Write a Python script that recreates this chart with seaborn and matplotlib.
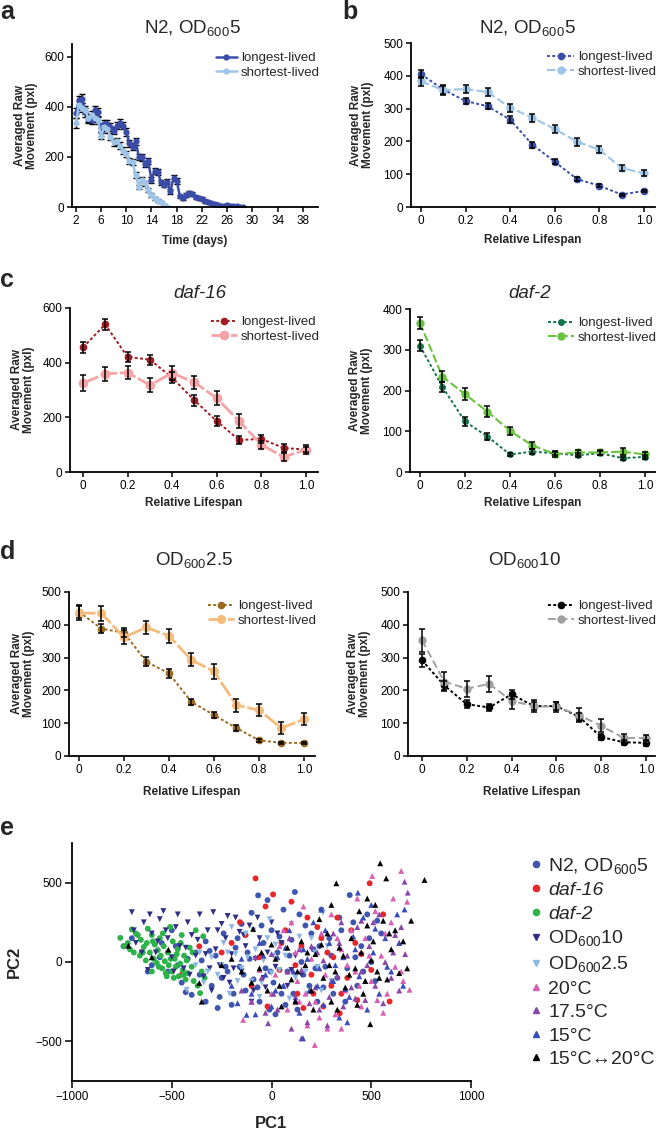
import numpy as np
import pandas as pd
import matplotlib
matplotlib.use('Agg')
import matplotlib.pyplot as plt
from matplotlib.lines import Line2D
import seaborn as sns

# ---------------------------------------------------------------
# data
# ---------------------------------------------------------------
# panel a : N2, OD600 5 over time (days)
days_long = [2.0, 2.5, 3.0, 3.5, 4.0, 4.5, 5.0, 5.5, 6.0, 6.5, 7.0, 7.5, 8.0, 8.5,
             9.0, 9.5, 10.0, 10.5, 11.0, 11.5, 12.0, 12.5, 13.0, 13.5, 14.0, 14.5,
             15.0, 15.5, 16.0, 16.5, 17.0, 17.5, 18.0, 18.5, 19.0, 19.5, 20.0, 20.5,
             21.0, 21.5, 22.0, 22.5, 23.0, 23.5, 24.0, 24.5, 25.0, 25.5, 26.0, 26.5,
             27.0, 27.5, 28.0, 28.5]
move_long = [375, 425, 432, 378, 350, 345, 385, 378, 300, 332, 330, 318, 305, 325,
             335, 325, 300, 255, 240, 262, 200, 198, 172, 182, 108, 145,
             140, 98, 88, 100, 62, 115, 105, 42, 35, 48, 55, 52,
             38, 35, 33, 22, 20, 17, 12, 8, 5, 3, 6, 5,
             3, 2, 1, 0]
err_long = [20, 18, 18, 18, 16, 16, 18, 16, 16, 16, 15, 15, 15, 15,
            15, 15, 15, 14, 14, 14, 13, 13, 12, 12, 11, 12,
            12, 10, 10, 10, 9, 12, 12, 7, 6, 7, 7, 7,
            6, 6, 6, 5, 5, 4, 4, 3, 3, 2, 3, 3,
            2, 2, 1, 1]
days_short = [2.0, 2.5, 3.0, 3.5, 4.0, 4.5, 5.0, 5.5, 6.0, 6.5, 7.0, 7.5, 8.0, 8.5,
              9.0, 9.5, 10.0, 10.5, 11.0, 11.5, 12.0, 12.5, 13.0, 13.5, 14.0, 14.5,
              15.0, 15.5, 16.0, 16.5]
move_short = [335, 405, 395, 385, 355, 365, 355, 345, 285, 318, 312, 280, 258, 262,
              245, 225, 212, 185, 178, 128, 80, 108, 95, 68, 48, 35,
              25, 18, 8, 0]
err_short = [18, 18, 18, 16, 16, 16, 15, 15, 15, 15, 15, 14, 14, 14,
             14, 13, 13, 12, 12, 11, 9, 10, 10, 8, 7, 6,
             5, 4, 3, 1]

# panels b-d : relative lifespan
rel_life = [0, 0.1, 0.2, 0.3, 0.4, 0.5, 0.6, 0.7, 0.8, 0.9, 1.0]

n2_long = [405, 358, 323, 307, 266, 190, 138, 85, 65, 38, 49]
n2_long_err = [12, 13, 10, 9, 10, 9, 8, 6, 4, 3, 3]
n2_short = [383, 356, 360, 350, 303, 272, 238, 199, 175, 119, 103]
n2_short_err = [14, 14, 13, 13, 12, 12, 12, 12, 11, 10, 10]

daf16_long = [456, 540, 421, 411, 345, 262, 186, 117, 121, 88, 82]
daf16_long_err = [20, 20, 18, 18, 20, 20, 18, 15, 15, 14, 10]
daf16_short = [325, 359, 364, 318, 362, 328, 270, 186, 100, 55, 82]
daf16_short_err = [30, 25, 25, 25, 25, 25, 25, 25, 15, 15, 15]

daf2_long = [310, 209, 124, 87, 43, 50, 46, 41, 46, 34, 37]
daf2_long_err = [14, 12, 10, 8, 4, 6, 5, 5, 5, 4, 4]
daf2_short = [366, 234, 191, 148, 101, 65, 44, 48, 48, 50, 43]
daf2_short_err = [15, 14, 14, 13, 10, 9, 6, 7, 7, 8, 5]

od25_long = [440, 388, 376, 287, 252, 165, 125, 85, 48, 40, 40]
od25_long_err = [20, 14, 14, 14, 14, 10, 10, 10, 5, 4, 4]
od25_short = [436, 435, 362, 392, 366, 293, 258, 155, 140, 85, 112]
od25_short_err = [22, 22, 22, 20, 20, 20, 22, 20, 18, 18, 18]

od10_long = [292, 215, 158, 148, 188, 152, 152, 120, 58, 42, 40]
od10_long_err = [20, 15, 12, 10, 14, 12, 12, 12, 10, 8, 8]
od10_short = [353, 227, 205, 220, 168, 152, 150, 125, 92, 55, 55]
od10_short_err = [35, 28, 25, 25, 25, 18, 16, 20, 20, 12, 10]

# panel e : PCA scatter
n2_pc1 = [-742, -650, -600, -560, -520, -480, -450, -420, -400, -380, -360, -330, -300,
          -280, -260, -240, -220, -200, -180, -160, -150, -130, -110, -100, -90, -67,
          -60, -40, -30, -10, 0, 10, 30, 50, 60, 80, 100, 117, 130, 150, 170, 190, 210,
          230, 250, 270, 290, 310, 330, 350, 380, 392, 410, 430, 450, 480, 500, 520, 550,
          -20, -500, -270, 20,
          -700, -620, -550, -470, -430, -350, -310, -250, -190, -170, -140, -120, -70, -50,
          -5, 40, 70, 90, 140, 160, 200, 220, 260, 300, 340, 370, 420, 460, 490, 530,
          -230, -330, 110, 240]
n2_pc2 = [99, 60, -20, 30, -60, 100, -130, 20, -207, 60, -80, 130, -150,
          40, -220, 180, -60, -270, 90, -30, 240, -180, 20, 310, -110, 420,
          -250, 120, -40, -300, 200, -130, 60, -200, 330, -60, 140, 441, -300, 0, 230, -150, 80,
          -250, 330, -30, 150, -200, -100, 200, -40, 422, 250, -150, 100, 300, 0, -120, 180,
          390, 200, -290, -330,
          150, -60, 120, -20, -190, 10, 70, -100, -200, 150, -80, 60, -160, 230,
          -60, 160, -270, 40, 300, -80, 180, -40, -160, 40, 280, -250, 30, -60, 150, 260,
          -30, -250, -200, 100]

daf16_pc1 = [-80, 8, 492, 592, 342, -450, -362, -158, -60, -100, -30, 40, 70, 100, 130,
             150, 180, 200, 230, 260, 280, 300, 330, 380, 400, 430, 450, -200, -20, 160, -130,
             -250, 50, 120, 210, 250, 310, 350, 420, 500, 560]
daf16_pc2 = [527, 426, 496, -249, -323, -80, 99, 251, 30, -150, 350, -50, 200, 380, -200,
             100, 280, -80, 220, -280, 60, -150, 280, -100, 200, -240, 50, 120, -280, -290, 170,
             60, 120, -20, -200, 150, 30, -200, 120, -50, 300]

daf2_pc1 = [-758, -700, -680, -655, -640, -625, -610, -600, -590, -585, -575, -570, -560,
            -555, -548, -540, -535, -530, -520, -515, -508, -500, -495, -490, -485, -480,
            -470, -465, -458, -450, -445, -438, -430, -420, -410, -400, -390, -380, -370,
            -358, -350, -342, -335, -620, -660, -720, -690, -600,
            -740, -710, -670, -645, -630, -595, -565, -545, -525, -505, -475, -455, -440,
            -425, -395]
daf2_pc2 = [152, 205, 180, 140, 95, 120, 60, 170, 20, 110, -6, 75, 150,
            40, -40, 100, 5, -70, 60, -20, 221, -60, 130, -100, 20, -30,
            80, -90, -10, 170, -50, 40, -110, -70, 90, -30, -120, 200, -150,
            -196, -60, 162, -100, 210, 40, 120, 60, -60,
            100, 80, 170, 60, 10, 130, -30, 180, -90, 20, 50, 120, -80,
            10, 60]

od10_pc1 = [-700, -680, -640, -600, -580, -560, -542, -520, -500, -480, -460, -440, -420,
            -400, -380, -360, -340, -320, -292, -280, -260, -250, -230, -210, -200, -180,
            -160, -150, -130, -110, -90, -80, -60, -40, -20, 0, 20, 50, 80, 120, 150,
            -620, -300, -100, -240,
            -690, -650, -610, -570, -530, -490, -470, -430, -410, -370, -330, -310, -270,
            -220, -190, -140, -70, -30, 30, 100]
od10_pc2 = [314, 120, 250, 180, 60, 270, 321, 150, 30, 220, 100, -40, 250,
            170, 40, 300, -90, 200, 314, 80, -20, 240, 150, -130, 50, 280,
            190, -60, 100, 230, -180, 20, 150, -100, 60, 250, -30, 120, -150, 40, -80,
            -50, -180, -250, -100,
            200, 60, 300, 130, 200, -60, 300, 90, -80, 140, 50, -40, 200,
            290, -40, 170, 280, -160, 180, -50]

od25_pc1 = [-425, -380, -340, -300, -270, -240, -210, -180, -150, -130, -100, -80, -60,
            -40, -20, 0, 20, 50, 70, 100, 120, 150, 180, 200, 230, 258, 280, 300, -200, -10,
            -360, -320, -250, -220, -170, -120, -90, -50, 10, 40, 90, 140, 170, 220, 250]
od25_pc2 = [-175, -20, -130, 30, -80, 120, -200, 50, -40, 180, -120, 80, -220,
            10, 150, -70, 110, -160, 40, 240, -100, 70, -200, 150, -30, 310, 100, -120, 220, 270,
            60, -60, -20, 60, -120, 30, 200, -130, 40, -50, -230, 160, -60, 60, -180]

t20_pc1 = [505, 650, 692, -142, 217, 0, 40, 80, 100, 130, 160, 180, 200, 220, 250, 270,
           300, 320, 350, 370, 400, 420, 450, 470, 500, 520, 550, 580, 600, 620, 640, 660,
           680, -60, 280, 140, 430, 560,
           20, 60, 120, 170, 240, 330, 380, 440, 490, 530, 570, 610, 650, -100, 350]
t20_pc2 = [542, 574, -175, -365, -523, -200, 100, -300, 250, -120, 350, -400, 20, -250, 180, -80,
           300, -330, 80, -180, 200, -60, -280, 150, -120, 320, 40, -200, 250, -30, 120, -120,
           380, -50, -420, -250, 400, -320,
           -80, 200, 60, -200, -350, 150, -20, -150, 40, -240, 180, 400, -60, -250, -420]

t175_pc1 = [667, 683, 150, -17, -100, -50, 0, 30, 60, 90, 120, 150, 180, 200, 220, 240,
            260, 290, 310, 330, 360, 380, 400, 430, 450, 470, 490, 520, 540, 570, 600, 620,
            650, 670, -150, 100, 280, 350, 450,
            -80, 10, 80, 140, 190, 230, 300, 340, 420, 480, 510, 560, 610, 640, -30]
t175_pc2 = [506, 437, -481, -386, -250, -100, 50, -300, -150, 150, -220, -50, -380, 100, -160, -300,
            10, -220, 180, -90, -280, 40, -160, 220, -60, -240, 100, -150, 300, 0, -100, 170,
            220, 50, -180, -420, -400, 250, 260,
            30, -200, -60, 80, -260, 60, -120, 120, -230, -20, 250, -260, 60, -180, -320]

t15_pc1 = [433, 667, 158, -125, -200, -150, -100, -60, -30, 0, 30, 60, 90, 110, 140, 160,
           190, 210, 240, 260, 290, 310, 340, 360, 390, 410, 440, 460, 480, 510, 540, 570,
           600, 630, 660, 380, -80, 250, 500,
           -170, -40, 20, 70, 120, 180, 230, 270, 320, 370, 420, 470, 520, 580, 640]
t15_pc2 = [437, 331, -481, -333, -150, 20, -200, 120, -80, -280, 30, -150, 200, -60, -320, 80,
           -180, 250, -40, -270, 120, -120, -350, 30, -220, 160, -90, 280, -300, 60, -200, 150,
           -60, 300, -150, -380, -330, 330, 360,
           -260, 40, -180, 90, -240, 20, -150, 200, -20, -170, 80, -120, 210, -30, 120]

shift_pc1 = [545, 767, 575, 325, 495, -717, -362, -517, -92, -150, -100, -50, -20, 20, 50, 80,
             100, 120, 150, 170, 200, 220, 240, 260, 280, 300, 320, 340, 370, 400, 420, 440,
             460, 480, 500, 520, 540, 560, 590, 600, 640, 660, 700, 580, 300, -350, -200, 430,
             -600, -250, -60, 0, 40, 130, 180, 210, 250, 290, 330, 360, 390, 450, 470, 510,
             530, 620, 680, 480]
shift_pc2 = [622, 517, 527, 496, -392, 103, -133, 78, 209, -60, -130, 60, -180, 20, -280, 90,
             -110, -250, 130, -20, -180, 50, 270, -100, 180, -250, -60, 90, -160, 150, -40, 320,
             -200, 230, 10, 360, -100, 260, 180, 80, -70, 130, 260, -110, 360, -250, 20, -270,
             30, -20, -40, 110, -150, -60, 60, -300, 110, -20, -300, 40, -80, 60, -120, 130,
             -60, 200, -40, 400]

group_names = ['N2, OD$_{600}$5', 'daf-16', 'daf-2', 'OD$_{600}$10', 'OD$_{600}$2.5',
               '20°C', '17.5°C', '15°C', '15°C↔20°C']
group_colors = ['#3f56b0', '#e8262a', '#2db34a', '#2f2f86', '#8cb8e2',
                '#d95fb5', '#8b47a8', '#3a4bbf', '#000000']
group_markers = ['o', 'o', 'o', 'v', 'v', '^', '^', '^', '^']
group_pc1 = [n2_pc1, daf16_pc1, daf2_pc1, od10_pc1, od25_pc1, t20_pc1, t175_pc1, t15_pc1, shift_pc1]
group_pc2 = [n2_pc2, daf16_pc2, daf2_pc2, od10_pc2, od25_pc2, t20_pc2, t175_pc2, t15_pc2, shift_pc2]

# ---------------------------------------------------------------
# style
# ---------------------------------------------------------------
sns.set_style('ticks')
plt.rcParams['font.family'] = ['Liberation Sans', 'DejaVu Sans']
plt.rcParams['mathtext.default'] = 'regular'

W, H = 661, 1132
fig = plt.figure(figsize=(W / 100, H / 100), dpi=100)


def add_axes(left, right, top, bottom):
    return fig.add_axes([left / W, 1 - bottom / H, (right - left) / W, (bottom - top) / H])


def style_axes(ax):
    sns.despine(ax=ax)
    for side in ['left', 'bottom']:
        ax.spines[side].set_linewidth(1.3)
        ax.spines[side].set_color('black')
    ax.tick_params(direction='out', length=3.5, width=1.1, labelsize=8.5, pad=2,
                   colors='black')


def fig_text(x, y, s, **kw):
    fig.text(x / W, 1 - y / H, s, **kw)


ylab = 'Averaged Raw\nMovement (pxl)'
lab_kw = dict(fontsize=8.5, fontweight='bold', linespacing=1.0)


def lifespan_panel(ax, ylong, elong, yshort, eshort, c_long, c_short, ymax, ystep,
                   xlim, ls_long, ls_short, lw_long, lw_short, ms_long, ms_short):
    sns.lineplot(x=rel_life, y=ylong, ax=ax, color=c_long, marker='o', markersize=ms_long,
                 markeredgewidth=0, linewidth=lw_long, linestyle=ls_long, label='longest-lived',
                 zorder=2)
    sns.lineplot(x=rel_life, y=yshort, ax=ax, color=c_short, marker='o', markersize=ms_short,
                 markeredgewidth=0, linewidth=lw_short, linestyle=ls_short, label='shortest-lived',
                 zorder=2)
    ax.errorbar(rel_life, ylong, yerr=elong, fmt='none', ecolor='black', elinewidth=1.1,
                capsize=2.5, capthick=1.1, zorder=3)
    ax.errorbar(rel_life, yshort, yerr=eshort, fmt='none', ecolor='black', elinewidth=1.1,
                capsize=2.5, capthick=1.1, zorder=3)
    ax.set_xlim(*xlim)
    ax.set_ylim(0, ymax)
    ax.set_yticks(np.arange(0, ymax + 1, ystep))
    ax.set_xticks([0, 0.2, 0.4, 0.6, 0.8, 1.0])
    ax.set_xticklabels(['0', '0.2', '0.4', '0.6', '0.8', '1.0'])
    style_axes(ax)
    ax.set_xlabel('Relative Lifespan', **lab_kw)
    ax.set_ylabel(ylab, **lab_kw)
    ax.legend(frameon=False, loc='upper right', bbox_to_anchor=(1.04, 1.0), fontsize=9.5,
              handlelength=2.0, handletextpad=0.3, labelspacing=0.2, borderaxespad=0.2)


# ---------------------------------------------------------------
# panel a
# ---------------------------------------------------------------
ax_a = add_axes(72, 318, 44, 207)
sns.lineplot(x=days_long, y=move_long, ax=ax_a, color='#3a4ca8', marker='o', markersize=4.5,
             markeredgewidth=0, linewidth=1.8, label='longest-lived', zorder=2)
sns.lineplot(x=days_short, y=move_short, ax=ax_a, color='#9ec5e8', marker='o', markersize=4.5,
             markeredgewidth=0, linewidth=1.8, label='shortest-lived', zorder=2)
ax_a.errorbar(days_long, move_long, yerr=err_long, fmt='none', ecolor='black', elinewidth=1.0,
              capsize=2, capthick=1.0, zorder=1.5)
ax_a.errorbar(days_short, move_short, yerr=err_short, fmt='none', ecolor='black', elinewidth=1.0,
              capsize=2, capthick=1.0, zorder=1.5)
ax_a.set_xlim(1.4, 40.4)
ax_a.set_ylim(0, 650)
ax_a.set_xticks(np.arange(2, 39, 4))
ax_a.set_yticks([0, 200, 400, 600])
style_axes(ax_a)
ax_a.set_xlabel('Time (days)', **lab_kw)
ax_a.set_ylabel(ylab, **lab_kw)
ax_a.legend(frameon=False, loc='upper right', bbox_to_anchor=(1.04, 1.0), fontsize=9.5,
            handlelength=1.6, handletextpad=0.3, labelspacing=0.2, borderaxespad=0.2)

# ---------------------------------------------------------------
# panels b-d
# ---------------------------------------------------------------
ax_b = add_axes(411, 655, 43, 207)
lifespan_panel(ax_b, n2_long, n2_long_err, n2_short, n2_short_err, '#3a4ea8', '#9ec5e8',
               500, 100, (-0.045, 1.05), (0, (1.5, 1.2)), (0, (4, 1.5)), 1.4, 1.5, 5.5, 6)

ax_c1 = add_axes(70, 318, 308, 472)
lifespan_panel(ax_c1, daf16_long, daf16_long_err, daf16_short, daf16_short_err, '#a31a22', '#f4a3a6',
               600, 200, (-0.058, 1.054), (0, (1.5, 1.2)), (0, (6, 1)), 1.4, 2.0, 5.5, 7)

ax_c2 = add_axes(410, 655, 309, 472)
lifespan_panel(ax_c2, daf2_long, daf2_long_err, daf2_short, daf2_short_err, '#13744a', '#6bc33f',
               400, 100, (-0.044, 1.044), (0, (1.5, 1.2)), (0, (4, 1.5)), 1.4, 1.5, 5, 6)

ax_d1 = add_axes(69, 315, 592, 756)
lifespan_panel(ax_d1, od25_long, od25_long_err, od25_short, od25_short_err, '#9a6a22', '#f5bb7c',
               500, 100, (-0.044, 1.049), (0, (1.5, 1.2)), (0, (6, 1)), 1.4, 2.0, 5.5, 6.5)

ax_d2 = add_axes(408, 655, 592, 756)
lifespan_panel(ax_d2, od10_long, od10_long_err, od10_short, od10_short_err, 'black', '#a0a0a0',
               500, 100, (-0.062, 1.04), (0, (1.5, 1.2)), (0, (4, 2)), 1.4, 1.4, 5.5, 6)

for ax in [ax_a, ax_c1, ax_d1]:
    ax.yaxis.set_label_coords(-0.14, 0.5)
for ax in [ax_b, ax_c2, ax_d2]:
    ax.yaxis.set_label_coords(-0.15, 0.5)
ax_a.xaxis.set_label_coords(0.5, -0.17)
ax_b.xaxis.set_label_coords(0.5, -0.165)
ax_c1.xaxis.set_label_coords(0.5, -0.155)
ax_c2.xaxis.set_label_coords(0.5, -0.155)
ax_d1.xaxis.set_label_coords(0.5, -0.18)
ax_d2.xaxis.set_label_coords(0.5, -0.18)

# ---------------------------------------------------------------
# panel e : PCA
# ---------------------------------------------------------------
ax_e = add_axes(72, 471, 843, 1081)
rows = []
for name, xs, ys in zip(group_names, group_pc1, group_pc2):
    for px, py in zip(xs, ys):
        rows.append((name, px, py))
pca = pd.DataFrame(rows, columns=['group', 'PC1', 'PC2'])
sns.scatterplot(data=pca, x='PC1', y='PC2', hue='group', style='group',
                palette=dict(zip(group_names, group_colors)),
                markers=dict(zip(group_names, group_markers)),
                s=18, linewidth=0, legend=False, ax=ax_e)
ax_e.set_xlim(-1000, 1000)
ax_e.set_ylim(-750, 750)
ax_e.set_xticks([-1000, -500, 0, 500, 1000])
ax_e.set_yticks([-500, 0, 500])
style_axes(ax_e)
ax_e.tick_params(labelsize=8.5, length=5)
ax_e.set_xlabel('PC1', fontsize=12, fontweight='bold')
ax_e.set_ylabel('PC2', fontsize=12, fontweight='bold')
ax_e.xaxis.set_label_coords(0.5, -0.145)
ax_e.yaxis.set_label_coords(-0.125, 0.5)

handles = [Line2D([], [], linestyle='none', marker=m, color=c, markersize=4.5)
           for m, c in zip(group_markers, group_colors)]
leg = fig.legend(handles, group_names, loc='upper left', bbox_to_anchor=(522 / W, 1 - 848 / H),
                 frameon=False, fontsize=14, handlelength=0.6, handletextpad=0.35,
                 labelspacing=0.3, borderaxespad=0)
leg.get_texts()[1].set_fontstyle('italic')
leg.get_texts()[2].set_fontstyle('italic')

# ---------------------------------------------------------------
# titles and panel letters
# ---------------------------------------------------------------
title_kw = dict(fontsize=13.5, ha='center', va='center')
fig_text(192, 28, 'N2, OD$_{600}$5', **title_kw)
fig_text(527, 28, 'N2, OD$_{600}$5', **title_kw)
fig_text(200, 293, 'daf-16', style='italic', **title_kw)
fig_text(530, 293, 'daf-2', style='italic', **title_kw)
fig_text(194, 560, 'OD$_{600}$2.5', **title_kw)
fig_text(524, 560, 'OD$_{600}$10', **title_kw)

letter_kw = dict(fontsize=18, fontweight='bold', ha='left', va='center')
fig_text(0, 12, 'a', **letter_kw)
fig_text(342, 12, 'b', **letter_kw)
fig_text(0, 280, 'c', **letter_kw)
fig_text(0, 552, 'd', **letter_kw)
fig_text(0, 828, 'e', **letter_kw)

fig.savefig('out.png', dpi=100)
